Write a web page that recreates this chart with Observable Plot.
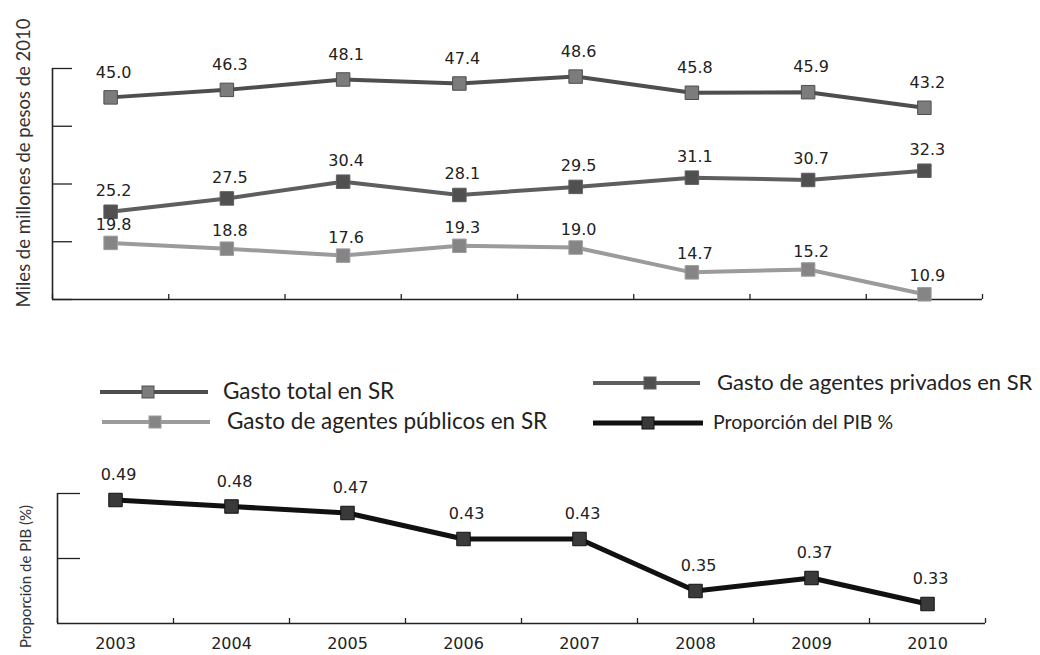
<!DOCTYPE html>
<html>
<head>
<meta charset="utf-8">
<script src="https://cdn.jsdelivr.net/npm/d3@7"></script>
<script src="https://cdn.jsdelivr.net/npm/@observablehq/plot@0.6"></script>
<style>
  html, body { margin: 0; padding: 0; background: #fff; }
  #page { position: relative; width: 1040px; height: 655px; overflow: hidden; background: #fff; }
  #topPanel { position: absolute; left: 0; top: 0; }
  #bottomPanel { position: absolute; left: 0; top: 460px; }
  .lg { position: absolute; font-family: Lato, "Open Sans", sans-serif; color: #222; white-space: nowrap; line-height: 1; }
</style>
</head>
<body>
<div id="page">
  <div id="topPanel"></div>
  <div id="legend"></div>
  <div id="bottomPanel"></div>
</div>
<script>
// ---- data ----
const years = [2003, 2004, 2005, 2006, 2007, 2008, 2009, 2010];
const gastoTotal = [45.0, 46.3, 48.1, 47.4, 48.6, 45.8, 45.9, 43.2];
const gastoPrivados = [25.2, 27.5, 30.4, 28.1, 29.5, 31.1, 30.7, 32.3];
const gastoPublicos = [19.8, 18.8, 17.6, 19.3, 19.0, 14.7, 15.2, 10.9];
const proporcionPIB = [0.49, 0.48, 0.47, 0.43, 0.43, 0.35, 0.37, 0.33];
const seriesNames = ["Gasto total en SR", "Gasto de agentes privados en SR", "Gasto de agentes públicos en SR", "Proporción del PIB %"];
const topTicks = [10, 20, 30, 40, 50];
const bottomTicks = [0.4, 0.5];
const yearBounds = [2002.5, 2003.5, 2004.5, 2005.5, 2006.5, 2007.5, 2008.5, 2009.5, 2010.5];
const topTitle = "Miles de millones de pesos de 2010";
const bottomTitle = "Proporción de PIB (%)";

// ---- styles ----
const styles = {
  "Gasto total en SR": {line: "#4e4e4e", marker: "#7c7c7c", dy: -25, width: 4},
  "Gasto de agentes privados en SR": {line: "#5e5e5e", marker: "#505050", dy: -21, width: 4},
  "Gasto de agentes públicos en SR": {line: "#9b9b9b", marker: "#858585", dy: -18, width: 4},
  "Proporción del PIB %": {line: "#111111", marker: "#3a3a3a", dy: -25, width: 5}
};
const numFont = "DejaVu Sans, Verdana, sans-serif";

const topRows = [];
[[seriesNames[0], gastoTotal], [seriesNames[1], gastoPrivados], [seriesNames[2], gastoPublicos]].forEach(([name, vals]) => {
  vals.forEach((v, i) => topRows.push({series: name, year: years[i], value: v}));
});
const pibRows = proporcionPIB.map((v, i) => ({series: seriesNames[3], year: years[i], value: v}));

function seriesMarks(rows, fmt) {
  const marks = [];
  for (const name of Array.from(new Set(rows.map(d => d.series)))) {
    const s = styles[name];
    const r = rows.filter(d => d.series === name);
    marks.push(Plot.line(r, {x: "year", y: "value", stroke: s.line, strokeWidth: s.width}));
    marks.push(Plot.dot(r, {x: "year", y: "value", symbol: "square", r: 7.6, fill: s.marker, stroke: s.line, strokeWidth: 1}));
    marks.push(Plot.text(r, {x: "year", y: "value", text: d => fmt(d.value), dy: s.dy, dx: 3, fontSize: 16, fontFamily: numFont, fill: "#222"}));
  }
  return marks;
}

// ---- top panel ----
const topW = 1040, topH = 320, tL = 52, tR = 58, tT = 68, tB = 21;
const topChart = Plot.plot({
  width: topW, height: topH,
  marginLeft: tL, marginRight: tR, marginTop: tT, marginBottom: tB,
  x: {domain: [yearBounds[0], yearBounds[yearBounds.length - 1]], axis: null},
  y: {domain: [topTicks[0], topTicks[topTicks.length - 1]], axis: null},
  style: {background: "transparent", overflow: "visible"},
  marks: [
    Plot.tickY(topTicks, {y: d => d, stroke: "#222", strokeWidth: 1.3, insetRight: (topW - tL - tR) - 20}),
    Plot.tickX(yearBounds, {x: d => d, stroke: "#222", strokeWidth: 1.3, insetTop: (topH - tT - tB) - 5}),
    Plot.ruleX([yearBounds[0]], {stroke: "#222", strokeWidth: 1.6}),
    Plot.ruleY([topTicks[0]], {stroke: "#222", strokeWidth: 1.6}),
    ...seriesMarks(topRows, v => v.toFixed(1)),
    Plot.text([topTitle], {frameAnchor: "left", textAnchor: "middle", lineAnchor: "middle", text: d => d, rotate: -90, dx: -28, dy: -21, fontSize: 18.5, fontFamily: "Lato, sans-serif", fill: "#333"})
  ]
});
document.getElementById("topPanel").appendChild(topChart);

// ---- bottom panel ----
const botW = 1040, botH = 195, bL = 57, bR = 55, bT = 33, bB = 32;
const bottomChart = Plot.plot({
  width: botW, height: botH,
  marginLeft: bL, marginRight: bR, marginTop: bT, marginBottom: bB,
  x: {domain: [yearBounds[0], yearBounds[yearBounds.length - 1]]},
  y: {domain: [0.3, 0.5], axis: null},
  style: {background: "transparent", overflow: "visible"},
  marks: [
    Plot.tickY(bottomTicks, {y: d => d, stroke: "#222", strokeWidth: 1.3, insetRight: (botW - bL - bR) - 23}),
    Plot.tickX(yearBounds, {x: d => d, stroke: "#222", strokeWidth: 1.3, insetTop: (botH - bT - bB) - 5}),
    Plot.ruleX([yearBounds[0]], {stroke: "#222", strokeWidth: 1.6}),
    Plot.ruleY([0.3], {stroke: "#222", strokeWidth: 1.6}),
    Plot.axisX(years, {tickSize: 0, tickPadding: 14, fontSize: 16, fontFamily: numFont, fill: "#222", tickFormat: d => String(d), label: null}),
    ...seriesMarks(pibRows, v => v.toFixed(2)),
    Plot.text([bottomTitle], {frameAnchor: "left", textAnchor: "middle", lineAnchor: "middle", text: d => d, rotate: -90, dx: -31, dy: 18, fontSize: 15, fontFamily: "Lato, sans-serif", fill: "#333"})
  ]
});
document.getElementById("bottomPanel").appendChild(bottomChart);

// ---- legend ----
const legendItems = [
  {name: seriesNames[0], x0: 100, x1: 208, mx: 148, y: 392, tx: 223, fs: 22.5},
  {name: seriesNames[2], x0: 102, x1: 210, mx: 155, y: 422, tx: 227, fs: 22.5},
  {name: seriesNames[1], x0: 593, x1: 700, mx: 650, y: 383, tx: 717, fs: 22},
  {name: seriesNames[3], x0: 593, x1: 703, mx: 648, y: 423, tx: 713, fs: 19.5}
];
const lg = document.getElementById("legend");
for (const it of legendItems) {
  const s = styles[it.name];
  const sw = document.createElementNS("http://www.w3.org/2000/svg", "svg");
  sw.setAttribute("width", 1040); sw.setAttribute("height", 655);
  sw.style.position = "absolute"; sw.style.left = "0px"; sw.style.top = "0px"; sw.style.overflow = "visible";
  sw.innerHTML = `<line x1="${it.x0}" x2="${it.x1}" y1="${it.y}" y2="${it.y}" stroke="${s.line}" stroke-width="${s.width}"/>` +
    `<rect x="${it.mx - 6}" y="${it.y - 6}" width="12" height="12" fill="${s.marker}" stroke="${s.line}" stroke-width="1"/>`;
  lg.appendChild(sw);
  const t = document.createElement("div");
  t.className = "lg";
  t.textContent = it.name;
  t.style.left = it.tx + "px";
  t.style.top = (it.y - it.fs * 0.55) + "px";
  t.style.fontSize = it.fs + "px";
  lg.appendChild(t);
}
</script>
</body>
</html>
